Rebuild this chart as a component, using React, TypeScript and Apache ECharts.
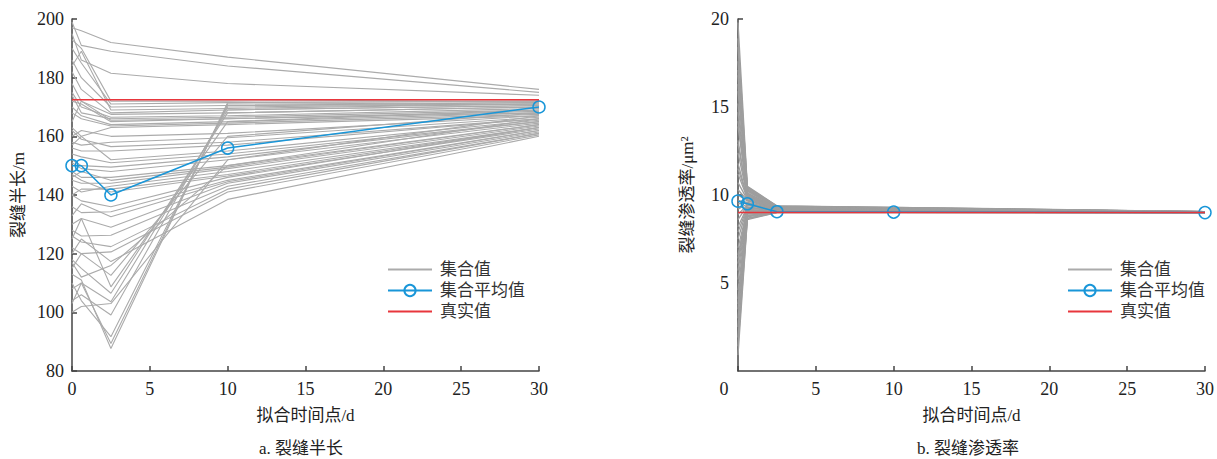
import React, { useEffect, useRef } from "react";
import * as echarts from "echarts";

// Fitting time points (days)
const timePoints = [0, 0.6, 2.5, 10, 30];

// Chart a: fracture half-length ensemble members (m) at each time point
const lenAt0 = [197, 199, 195, 193, 190, 186, 184, 182, 178, 175, 174, 172, 170, 168, 165, 163, 160, 158, 162, 156, 157, 154, 152, 151, 148, 146, 145, 143, 140, 147, 140, 136, 133, 130, 128, 126, 122, 120, 113, 108, 110, 104, 103, 118, 125, 115, 100, 117];
const lenAt06 = [196, 191, 186, 190, 185, 180, 189, 176, 172, 170, 168, 171, 167, 166, 172, 160, 162, 157, 159, 155, 160, 153, 150, 149, 146, 148, 144, 141, 142, 145, 138, 134, 137, 132, 126, 124, 120, 125, 111, 110, 104, 106, 110, 115, 132, 120, 102, 112];
const lenAt25 = [192, 189, 181.5, 172, 171, 170, 169, 168, 167.5, 166.5, 166, 165, 164, 163.5, 165.5, 163, 160, 158, 156.5, 155, 152, 151, 149.5, 148, 146, 145, 144, 143, 142, 141, 136, 134.3, 132.6, 129, 126.3, 122.4, 120.6, 117.3, 87.7, 89.4, 91.7, 99.1, 103.6, 106.5, 108.7, 112.6, 103, 116];
const lenAt10 = [187, 184, 178, 172, 171.5, 170.5, 169.5, 169, 168, 167, 166.5, 166, 165, 164.5, 166, 164, 161, 159.5, 158, 157, 155, 154, 153, 152, 150, 149.5, 149, 148, 147, 146.5, 146, 145, 144.5, 144, 143, 142, 141, 138.5, 171.5, 171, 170.5, 170, 169, 168, 165, 160, 152, 150];
const lenAt30 = [176, 175, 174, 172.5, 172, 171.5, 171, 170.5, 170, 169.5, 169, 168.5, 168, 167.5, 168, 167, 167, 166.5, 166, 166, 165.5, 165, 165, 164.5, 164, 164, 163.5, 163, 163, 162.5, 163, 162, 162, 161.5, 161, 161, 160.5, 160, 172, 171.5, 171, 171, 170.5, 170, 169, 168, 167, 166];
const lenMean = [150, 150, 140, 156, 170];
const lenTrue = 172.5;

// Chart b: fracture permeability ensemble members (μm²)
const permAt0 = [19.8, 18.9, 17.6, 16.8, 15.9, 14.7, 13.9, 13.1, 12.4, 11.8, 11.2, 10.7, 10.3, 10.0, 9.7, 9.5, 9.2, 8.9, 8.6, 8.2, 7.9, 7.5, 7.0, 6.6, 6.1, 5.7, 5.2, 4.6, 4.1, 3.5, 3.0, 2.5, 1.9, 1.4, 0.9, 12.9, 15.2, 6.4, 3.8, 17.1, 18.4, 16.3, 14.2, 11.5];
const permAt06 = [10.5, 10.42, 10.3, 10.28, 10.2, 10.08, 10.02, 9.94, 9.91, 9.83, 9.8, 9.74, 9.7, 9.66, 9.58, 9.55, 9.49, 9.44, 9.41, 9.33, 9.3, 9.26, 9.18, 9.16, 9.08, 9.05, 9.01, 8.94, 8.92, 8.84, 8.8, 8.76, 8.69, 8.66, 8.6, 9.96, 10.12, 9.12, 8.83, 10.36, 10.46, 10.24, 10.05, 9.86];
const permAt25 = [9.38, 9.36, 9.34, 9.33, 9.31, 9.3, 9.28, 9.27, 9.25, 9.24, 9.22, 9.21, 9.2, 9.19, 9.17, 9.16, 9.15, 9.13, 9.12, 9.11, 9.1, 9.09, 9.08, 9.07, 9.06, 9.05, 9.04, 9.04, 9.03, 9.02, 9.02, 9.01, 9.01, 9.0, 9.0, 9.26, 9.29, 9.1, 9.03, 9.32, 9.37, 9.3, 9.27, 9.23];
const permAt10 = [9.3, 9.28, 9.27, 9.26, 9.24, 9.23, 9.22, 9.21, 9.2, 9.19, 9.18, 9.17, 9.16, 9.15, 9.14, 9.13, 9.12, 9.11, 9.1, 9.09, 9.08, 9.07, 9.07, 9.06, 9.05, 9.05, 9.04, 9.03, 9.03, 9.02, 9.02, 9.01, 9.01, 9.0, 9.0, 9.2, 9.22, 9.08, 9.03, 9.25, 9.29, 9.24, 9.21, 9.18];
const permAt30 = [9.06, 9.06, 9.05, 9.05, 9.05, 9.04, 9.04, 9.04, 9.04, 9.03, 9.03, 9.03, 9.03, 9.03, 9.02, 9.02, 9.02, 9.02, 9.02, 9.02, 9.01, 9.01, 9.01, 9.01, 9.01, 9.01, 9.01, 9.0, 9.0, 9.0, 9.0, 9.0, 9.0, 9.0, 9.0, 9.04, 9.04, 9.01, 9.0, 9.05, 9.06, 9.05, 9.04, 9.03];
const permMean = [9.65, 9.5, 9.05, 9.03, 9.0];
const permTrue = 9.0;

const xTicks = ["0", "5", "10", "15", "20", "25", "30"];

const FONT = "Liberation Serif, Noto Sans CJK SC, serif";
const GRAY_A = "#ababab";
const GRAY_B = "#9e9e9e";
const BLUE = "#1996d8";
const RED = "#e8363c";
const AXIS = "#444";

function memberSeries(cols: number[][], idx: number, name: string, color: string, width: number) {
  const out: any[] = [];
  const n = cols[0].length;
  for (let i = 0; i < n; i++) {
    out.push({
      type: "line",
      name,
      xAxisIndex: idx,
      yAxisIndex: idx,
      symbol: "none",
      silent: true,
      z: 1,
      lineStyle: { color, width },
      itemStyle: { color },
      data: timePoints.map((t, k) => [t, cols[k][i]]),
    });
  }
  return out;
}

export default function App() {
  const ref = useRef<HTMLDivElement>(null);
  useEffect(() => {
    if (!ref.current) return;
    const chart = echarts.init(ref.current, undefined, { renderer: "svg" });
    const labelStyle = { color: "#222", fontSize: 18, fontFamily: FONT };
    const axisCommon = {
      axisLine: { show: true, lineStyle: { color: AXIS, width: 1.5 } },
      axisTick: { show: true, inside: true, length: 5, lineStyle: { color: AXIS, width: 1.5 } },
      splitLine: { show: false },
      nameTextStyle: { color: "#222", fontSize: 17, fontFamily: FONT },
    };
    const xAxisFor = (gi: number) => ({
      ...axisCommon,
      type: "value",
      gridIndex: gi,
      min: 0,
      max: 30,
      interval: 5,
      name: "拟合时间点/d",
      nameLocation: "middle",
      nameGap: 36,
      axisLabel: {
        ...labelStyle,
        margin: 9,
        formatter: (v: number) => {
          const s = xTicks[Math.round(v / 5)] ?? "";
          return gi === 1 && v === 0 ? "{z|" + s + "}" : s;
        },
        rich: { z: { ...labelStyle, padding: [0, 28, 0, 0] } },
      },
    });
    const legendFor = (left: number) => ({
      orient: "vertical",
      left,
      top: 256,
      itemWidth: 44,
      itemHeight: 14,
      itemGap: 4,
      textStyle: { color: "#333", fontSize: 17, fontFamily: FONT, padding: [0, 0, 0, 3] },
      data: [
        { name: "集合值", itemStyle: { opacity: 0 } },
        { name: "集合平均值" },
        { name: "真实值", itemStyle: { opacity: 0 } },
      ],
    });
    const meanStyle = {
      type: "line",
      name: "集合平均值",
      symbol: "circle",
      symbolSize: 12,
      z: 3,
      lineStyle: { color: BLUE, width: 1.5 },
      itemStyle: { color: "rgba(255,255,255,0)", borderColor: BLUE, borderWidth: 1.5 },
    };
    chart.setOption({
      animation: false,
      grid: [
        { left: 72, top: 19, width: 467, height: 352 },
        { left: 738, top: 19, width: 471, height: 352 },
      ],
      xAxis: [xAxisFor(0), xAxisFor(1)],
      yAxis: [
        {
          ...axisCommon,
          type: "value",
          gridIndex: 0,
          min: 80,
          max: 200,
          interval: 20,
          name: "裂缝半长/m",
          nameLocation: "middle",
          nameGap: 45,
          axisLabel: { ...labelStyle, margin: 8 },
        },
        {
          ...axisCommon,
          type: "value",
          gridIndex: 1,
          min: 0,
          max: 20,
          interval: 5,
          name: "裂缝渗透率/μm²",
          nameLocation: "middle",
          nameGap: 42,
          axisLabel: { ...labelStyle, margin: 9, showMinLabel: false },
        },
      ],
      legend: [legendFor(382), legendFor(1062)],
      series: [
        ...memberSeries([lenAt0, lenAt06, lenAt25, lenAt10, lenAt30], 0, "集合值", GRAY_A, 1.1),
        ...memberSeries([permAt0, permAt06, permAt25, permAt10, permAt30], 1, "集合值", GRAY_B, 1.3),
        {
          ...meanStyle,
          xAxisIndex: 0,
          yAxisIndex: 0,
          data: timePoints.map((t, k) => [t, lenMean[k]]),
        },
        {
          ...meanStyle,
          xAxisIndex: 1,
          yAxisIndex: 1,
          data: timePoints.map((t, k) => [t, permMean[k]]),
        },
        {
          type: "line",
          name: "真实值",
          xAxisIndex: 0,
          yAxisIndex: 0,
          symbol: "none",
          z: 4,
          lineStyle: { color: RED, width: 1.5 },
          itemStyle: { color: RED },
          data: [[0, lenTrue], [30, lenTrue]],
        },
        {
          type: "line",
          name: "真实值",
          xAxisIndex: 1,
          yAxisIndex: 1,
          symbol: "none",
          z: 4,
          lineStyle: { color: RED, width: 1.5 },
          itemStyle: { color: RED },
          data: [[0, permTrue], [30, permTrue]],
        },
      ],
      graphic: [
        {
          type: "text",
          left: 305 - 46,
          top: 440,
          style: { text: "a. 裂缝半长", fill: "#222", font: `17px ${FONT}` },
        },
        {
          type: "text",
          left: 972 - 55,
          top: 440,
          style: { text: "b. 裂缝渗透率", fill: "#222", font: `17px ${FONT}` },
        },
      ],
    });
    return () => chart.dispose();
  }, []);
  return (
    <div
      ref={ref}
      style={{ position: "absolute", left: 0, top: 0, width: 1217, height: 459, background: "#fff" }}
    />
  );
}
